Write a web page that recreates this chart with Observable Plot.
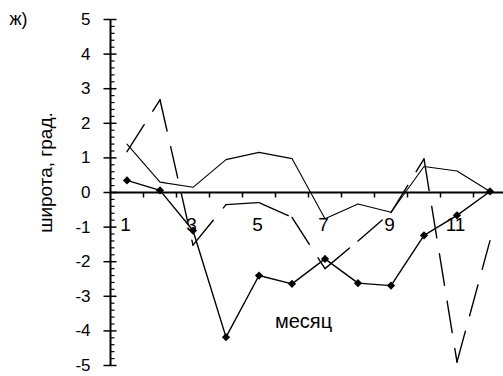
<!DOCTYPE html>
<html><head><meta charset="utf-8">
<script src="https://cdn.jsdelivr.net/npm/d3@7"></script>
<script src="https://cdn.jsdelivr.net/npm/@observablehq/plot@0.6"></script>
<style>html,body{margin:0;padding:0;background:#fff;} svg{display:block}</style>
</head><body><div id="chart"></div>
<script>
const months = [1,2,3,4,5,6,7,8,9,10,11,12];
const monthLabels = ["1","","3","","5","","7","","9","","11",""];
const seriesA = [0.35, 0.06, -1.1, -4.18, -2.4, -2.64, -1.92, -2.62, -2.69, -1.24, -0.66, 0.03];
const seriesB = [1.4, 0.3, 0.15, 0.95, 1.16, 0.98, -0.76, -0.33, -0.57, 0.75, 0.62, 0.03];
const seriesD = [1.18, 2.68, -1.52, -0.35, -0.29, -0.72, -2.2, -1.4, -0.58, 0.97, -4.9, -1.39];
const yTicks = [-5,-4,-3,-2,-1,0,1,2,3,4,5];
const yMinor = d3.range(-50, 51, 2).map(d => d / 10).filter(d => !Number.isInteger(d));
const xBounds = months.map(m => m + 0.5);
const panelLabel = "ж)";
const xTitle = "месяц";
const yTitle = "широта, град.";

const rowsA = months.map((m, i) => ({x: m, y: seriesA[i]}));
const rowsB = months.map((m, i) => ({x: m, y: seriesB[i]}));
const segsD = [];
for (let i = 0; i < months.length - 1; i++) {
  segsD.push({seg: i, x: months[i], y: seriesD[i]}, {seg: i, x: months[i + 1], y: seriesD[i + 1]});
}

// tick-mark symbols (pixel lengths)
const tickMajorY = {draw(c) { c.moveTo(-7, 0); c.lineTo(6, 0); }};
const tickMinorY = {draw(c) { c.moveTo(0, 0); c.lineTo(4, 0); }};
const tickX = {draw(c) { c.moveTo(0, 0); c.lineTo(0, 5); }};

const chart = Plot.plot({
  width: 503, height: 376,
  margin: 0,
  x: {type: "linear", domain: [0.5, 12.5], range: [110, 506], axis: null},
  y: {domain: [-5, 5], range: [365, 19], axis: null},
  style: {fontFamily: "'Liberation Sans', Arial, sans-serif", color: "#000", background: "#fff"},
  marks: [
    // axes
    Plot.ruleX([0.5], {y1: -5, y2: 5, stroke: "#000", strokeWidth: 2}),
    Plot.ruleY([0], {x1: 0.5, x2: 12.5, stroke: "#000", strokeWidth: 2}),
    Plot.dot(yTicks, {x: 0.5, y: d => d, symbol: tickMajorY, stroke: "#000", fill: "none", strokeWidth: 1.5}),
    Plot.dot(yMinor, {x: 0.5, y: d => d, symbol: tickMinorY, stroke: "#000", fill: "none", strokeWidth: 1.2}),
    Plot.dot(xBounds, {x: d => d, y: 0, symbol: tickX, stroke: "#000", fill: "none", strokeWidth: 1.5}),
    Plot.text(yTicks, {x: 0.5, y: d => d, text: d => String(d), textAnchor: "end", dx: -20, fontSize: 17, fill: "#000"}),
    Plot.text(months, {x: d => d, y: 0, text: (d, i) => monthLabels[i], dx: -1.5, dy: 32, fontSize: 19, fill: "#000"}),
    // data lines
    Plot.line(rowsB, {x: "x", y: "y", stroke: "#000", strokeWidth: 1.1}),
    Plot.line(segsD, {x: "x", y: "y", z: "seg", stroke: "#000", strokeWidth: 1.4, strokeDasharray: "32,16"}),
    Plot.line(rowsA, {x: "x", y: "y", stroke: "#000", strokeWidth: 1.4}),
    Plot.dot(rowsA, {x: "x", y: "y", symbol: "diamond2", r: 3.7, fill: "#000", stroke: "none"}),
    // titles
    Plot.text([panelLabel], {frameAnchor: "top-left", dx: 9, dy: 24, lineAnchor: "bottom", textAnchor: "start", fontSize: 18, fill: "#000"}),
    Plot.text([xTitle], {frameAnchor: "top-left", dx: 303, dy: 327, lineAnchor: "bottom", textAnchor: "middle", fontSize: 20, fill: "#000"}),
    Plot.text([yTitle], {frameAnchor: "top-left", dx: 51, dy: 172, rotate: -90, lineAnchor: "bottom", textAnchor: "middle", fontSize: 19, fill: "#000", ariaLabel: "ytitle"})
  ]
});
d3.select(chart).selectAll('g[aria-label="ytitle"] text').attr("letter-spacing", "2.4");
document.getElementById("chart").appendChild(chart);
</script>
</body></html>
